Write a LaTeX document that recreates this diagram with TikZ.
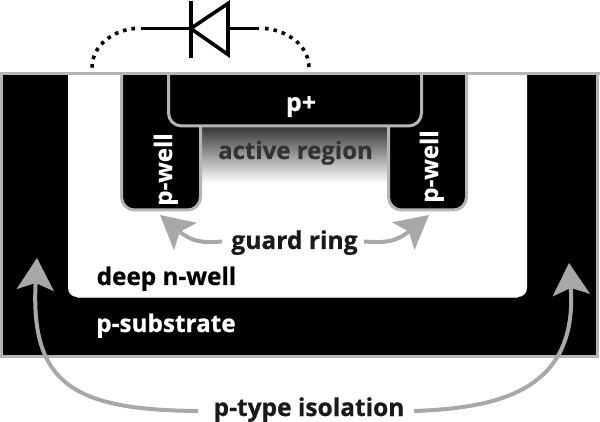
\documentclass[tikz,border=0pt]{standalone}
\usepackage{fontspec}
\setmainfont{Open Sans}[BoldFont={Open Sans Bold},BoldFeatures={FakeBold=0.6}]
\usetikzlibrary{arrows.meta}
\definecolor{edgegray}{HTML}{B5B5B5}
\definecolor{arrowgray}{HTML}{A8A8A8}
\definecolor{inkdark}{HTML}{1A1A1A}
\definecolor{activeink}{HTML}{333333}
\tikzset{
  x=1pt,y=-1pt,
  wellbox/.style={fill=black,draw=edgegray,line width=3pt},
  lbl/.style={font=\bfseries\fontsize{#1}{#1}\selectfont,inner sep=0pt,anchor=base},
  lbl/.default=24,
  lead/.style={line width=3.6pt,draw=black},
  dotlead/.style={line width=3.6pt,draw=black,dash pattern=on 3.6pt off 5pt},
  bigarrow/.style={draw=arrowgray,line width=4pt,-{Stealth[length=32pt,width=37pt,inset=7pt]}},
  smallarrow/.style={draw=arrowgray,line width=4pt,-{Stealth[length=33pt,width=35pt,inset=7pt]}},
}
\begin{document}
\begin{tikzpicture}
\useasboundingbox (0,0) rectangle (600,422);
% isolation body with its outline
\draw[wellbox] (1.5,73.5) rectangle (597.5,356.5);
% everything below the surface line is cut off at the top of the body
\begin{scope}
\clip (0,73) rectangle (600,422);
% deep n-well
\fill[white,rounded corners=9pt] (68,40) rectangle (527,297);
\draw[edgegray,line width=0.8pt] (77,297.5) -- (518,297.5);
% active region fading into the n-well
\shade[top color=black!80,bottom color=white] (201,126) rectangle (388,183);
% guard ring wells
\draw[wellbox,rounded corners=13pt] (121.5,40) rectangle (200.5,210);
\draw[wellbox,rounded corners=13pt] (388.5,40) rectangle (466.5,210);
% p+ implant
\draw[wellbox,rounded corners=13pt] (168.5,40) rectangle (421.5,126);
\end{scope}
% surface line
\draw[edgegray,line width=3pt] (0,73.5) -- (600,73.5);
% diode symbol
\coordinate (bartop) at (190.7,1);
\coordinate (barbot) at (190.7,58);
\coordinate (cathode) at (190.7,28.5);
\coordinate (anode) at (228,28.5);
\coordinate (leadL) at (141,28.5);
\coordinate (leadR) at (259,28.5);
\coordinate (padL) at (92,68);
\coordinate (padR) at (309,68);
\draw[lead] (bartop) -- (barbot);
\draw[lead,line join=miter] (cathode) -- (228,3.5) -- (228,54.5) -- cycle;
\draw[lead] (leadL) -- (cathode);
\draw[lead] (anode) -- (leadR);
\draw[dotlead] ([xshift=-6pt]leadL) .. controls (115,30) and (92,44) .. (padL);
\draw[dotlead] ([xshift=6pt]leadR) .. controls (285,30) and (309,44) .. (padR);
% labels
\node[lbl=25,text=white] (pplus) at (301,111) {p+};
\node[lbl=24,text=white,rotate=90,anchor=base] (wellL) at (172,169.5) {p-well};
\node[lbl=24,text=white,rotate=90,anchor=base] (wellR) at (438,166.5) {p-well};
\node[lbl=24,text=activeink] (active) at (295.5,159) {active region};
\node[lbl=24.6,text=inkdark] (guard) at (294.5,249) {guard ring};
\node[lbl=24.3,text=black] (nwell) at (166.5,285) {deep n-well};
\node[lbl=24.3,text=white] (psub) at (166,332) {p-substrate};
\node[lbl=24.5,text=inkdark] (iso) at (309,416) {p-type isolation};
% arrow anchors
\coordinate (gtL) at (222,241.5);
\coordinate (gtR) at (364,241.5);
\coordinate (gL) at (160,215);
\coordinate (gR) at (429,215);
\coordinate (itL) at (198,411);
\coordinate (itR) at (414,411);
\coordinate (iL) at (37,258);
\coordinate (iR) at (569,263);
\draw[smallarrow] (gtL) .. controls (202,243) and (192,242) .. (gL);
\draw[smallarrow] (gtR) .. controls (386,243) and (396,242) .. (gR);
\draw[bigarrow] (itL) .. controls (75,410) and (30,385) .. (iL);
\draw[bigarrow] (itR) .. controls (500,408) and (578,390) .. (iR);
\end{tikzpicture}
\end{document}
